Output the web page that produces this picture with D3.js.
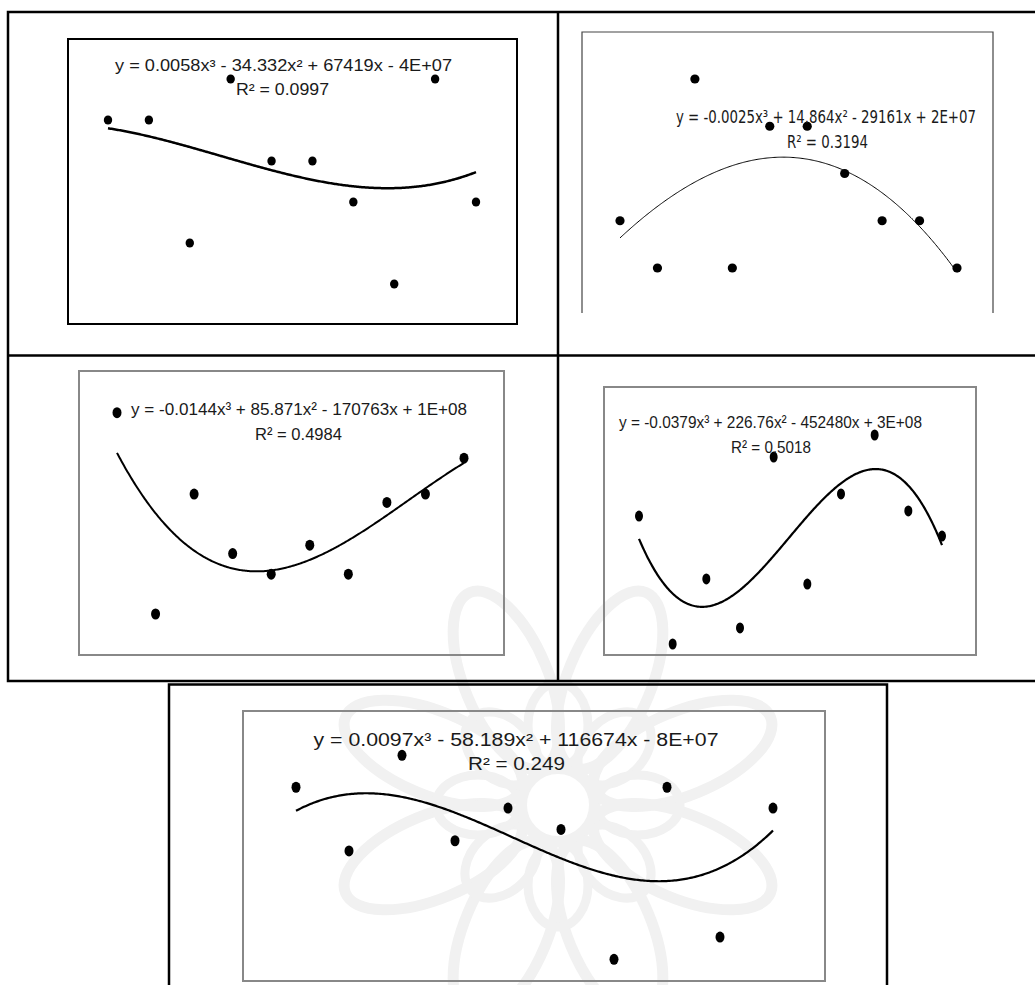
<!DOCTYPE html>
<html>
<head>
<meta charset="utf-8">
<script src="https://cdn.jsdelivr.net/npm/d3@7"></script>
<style>
  html, body { margin: 0; padding: 0; background: #fff; }
  svg { display: block; }
</style>
</head>
<body>
<div id="chart"></div>
<script>
// ten observations per panel (years are not printed on the chart)
const years = [1996, 1997, 1998, 1999, 2000, 2001, 2002, 2003, 2004, 2005];

const values1 = [5, 5, 2, 6, 4, 4, 3, 1, 6, 3];
const values2 = [2, 1, 5, 1, 4, 4, 3, 2, 2, 1];
const values3 = [6.0, 1.0, 3.98, 2.5, 1.99, 2.71, 1.99, 3.77, 3.98, 4.87];
const values4 = [6.51, 1.0, 3.8, 1.69, 9.05, 3.58, 7.46, 10.0, 6.73, 5.65];
const values5 = [8.59, 5.78, 10.0, 6.23, 7.67, 6.73, 1.0, 8.59, 1.98, 7.67];

const equations = [
  'y = 0.0058x³ - 34.332x² + 67419x - 4E+07',
  'y = -0.0025x³ + 14.864x² - 29161x + 2E+07',
  'y = -0.0144x³ + 85.871x² - 170763x + 1E+08',
  'y = -0.0379x³ + 226.76x² - 452480x + 3E+08',
  'y = 0.0097x³ - 58.189x² + 116674x - 8E+07'
];
const rSquared = ['R² = 0.0997', 'R² = 0.3194', 'R² = 0.4984', 'R² = 0.5018', 'R² = 0.249'];

const W = 1035, H = 985;
const arial = '"Liberation Sans", Arial, sans-serif';
const narrow = '"Liberation Sans Narrow", "DejaVu Sans Condensed", sans-serif';

// layout of each panel (pixels)
const panels = [
  { data: values1, frame: [68, 39, 517, 324], frameColor: '#000', frameWidth: 2, open: false,
    xr: [108, 476], yd: [1, 6], yr: [284, 79], rx: 4.2, ry: 4.5, lw: 2.5,
    t1: [283.5, 65, 337], t2: [282.5, 89, 93], fs: 16, font: arial },
  { data: values2, frame: [582, 32, 993, 313], frameColor: '#444', frameWidth: 1.2, open: true,
    xr: [620, 957], yd: [1, 5], yr: [268, 79], rx: 4.6, ry: 4.6, lw: 1,
    t1: [826, 117, 300], t2: [827.5, 142, 81], fs: 17, font: narrow },
  { data: values3, frame: [79, 371, 504, 655], frameColor: '#888', frameWidth: 2, open: false,
    xr: [117, 464], yd: [1, 6], yr: [614, 412.7], rx: 4.5, ry: 5.5, lw: 2,
    t1: [299, 409, 336], t2: [298.5, 434, 87], fs: 17, font: arial },
  { data: values4, frame: [604, 387, 976, 655], frameColor: '#888', frameWidth: 2, open: false,
    xr: [639, 942], yd: [1, 10], yr: [644, 435], rx: 4, ry: 5.5, lw: 2.2,
    t1: [770.5, 421.7, 303], t2: [771, 446.7, 80], fs: 17, font: arial },
  { data: values5, frame: [243, 711, 825, 981], frameColor: '#888', frameWidth: 2, open: false,
    xr: [296, 773], yd: [1, 10], yr: [959.3, 755.3], rx: 4.5, ry: 5.5, lw: 2.2,
    t1: [516, 740, 405], t2: [516.5, 764, 97], fs: 18, font: arial }
];

// least squares cubic (Excel style polynomial trendline)
function cubicFit(xs, ys) {
  const n = 4;
  const A = [], b = [];
  for (let i = 0; i < n; i++) {
    A.push(new Array(n).fill(0));
    b.push(0);
  }
  xs.forEach((x, k) => {
    for (let i = 0; i < n; i++) {
      for (let j = 0; j < n; j++) A[i][j] += Math.pow(x, i + j);
      b[i] += ys[k] * Math.pow(x, i);
    }
  });
  for (let c = 0; c < n; c++) {
    let p = c;
    for (let r = c + 1; r < n; r++) if (Math.abs(A[r][c]) > Math.abs(A[p][c])) p = r;
    [A[c], A[p]] = [A[p], A[c]];
    [b[c], b[p]] = [b[p], b[c]];
    for (let r = c + 1; r < n; r++) {
      const f = A[r][c] / A[c][c];
      for (let j = c; j < n; j++) A[r][j] -= f * A[c][j];
      b[r] -= f * b[c];
    }
  }
  const coef = new Array(n).fill(0);
  for (let r = n - 1; r >= 0; r--) {
    let s = b[r];
    for (let j = r + 1; j < n; j++) s -= A[r][j] * coef[j];
    coef[r] = s / A[r][r];
  }
  return x => coef[0] + coef[1] * x + coef[2] * x * x + coef[3] * x * x * x;
}

const svg = d3.select('#chart').append('svg')
  .attr('width', W)
  .attr('height', H);

// faint watermark behind the lower charts
const wm = svg.append('g')
  .attr('transform', 'translate(558, 805)')
  .attr('fill', 'none')
  .attr('stroke', '#f1f1f1');
d3.range(8).forEach(i => {
  wm.append('ellipse')
    .attr('transform', `rotate(${i * 45 + 22.5}) translate(0, -135)`)
    .attr('rx', 42).attr('ry', 95)
    .attr('stroke-width', 11);
  wm.append('ellipse')
    .attr('transform', `rotate(${i * 45}) translate(0, -80)`)
    .attr('rx', 30).attr('ry', 42)
    .attr('stroke-width', 9);
});
wm.append('circle').attr('r', 36).attr('stroke-width', 10);

// table grid
const grid = svg.append('g').attr('stroke', '#000').attr('stroke-width', 2.5).attr('fill', 'none');
grid.append('path').attr('d', 'M1035,12H8V681H1035');
grid.append('path').attr('d', 'M558,12V681');
grid.append('path').attr('d', 'M8,355.5H1035');
grid.append('path').attr('d', 'M169,990V684.5H887V990');

panels.forEach(p => {
  const g = svg.append('g');
  const [x0, y0, x1, y1] = p.frame;

  if (p.open) {
    g.append('path')
      .attr('d', `M${x0},${y1}V${y0}H${x1}V${y1}`)
      .attr('fill', 'none')
      .attr('stroke', p.frameColor)
      .attr('stroke-width', p.frameWidth);
  } else {
    g.append('rect')
      .attr('x', x0).attr('y', y0)
      .attr('width', x1 - x0).attr('height', y1 - y0)
      .attr('fill', 'none')
      .attr('stroke', p.frameColor)
      .attr('stroke-width', p.frameWidth);
  }

  const x = d3.scaleLinear().domain([years[0], years[years.length - 1]]).range(p.xr);
  const y = d3.scaleLinear().domain(p.yd).range(p.yr);

  const mid = d3.mean(years);
  const fit = cubicFit(years.map(d => d - mid), p.data);
  const xs = d3.range(0, 301).map(i => years[0] + (years[years.length - 1] - years[0]) * i / 300);
  const line = d3.line()
    .x(d => x(d))
    .y(d => y(fit(d - mid)));

  g.append('path')
    .datum(xs)
    .attr('d', line)
    .attr('fill', 'none')
    .attr('stroke', '#000')
    .attr('stroke-width', p.lw);

  g.selectAll('ellipse.dot')
    .data(p.data)
    .enter()
    .append('ellipse')
    .attr('class', 'dot')
    .attr('cx', (d, i) => x(years[i]))
    .attr('cy', d => y(d))
    .attr('rx', p.rx)
    .attr('ry', p.ry)
    .attr('fill', '#000');
});

// equation labels drawn last so they sit on top like the reference
panels.forEach((p, k) => {
  [[equations[k], p.t1], [rSquared[k], p.t2]].forEach(([txt, pos]) => {
    svg.append('text')
      .attr('x', pos[0])
      .attr('y', pos[1] + p.fs * 0.36)
      .attr('text-anchor', 'middle')
      .attr('font-family', p.font)
      .attr('font-size', p.fs)
      .attr('fill', '#1a1a1a')
      .attr('textLength', pos[2])
      .attr('lengthAdjust', 'spacingAndGlyphs')
      .text(txt);
  });
});
</script>
</body>
</html>
